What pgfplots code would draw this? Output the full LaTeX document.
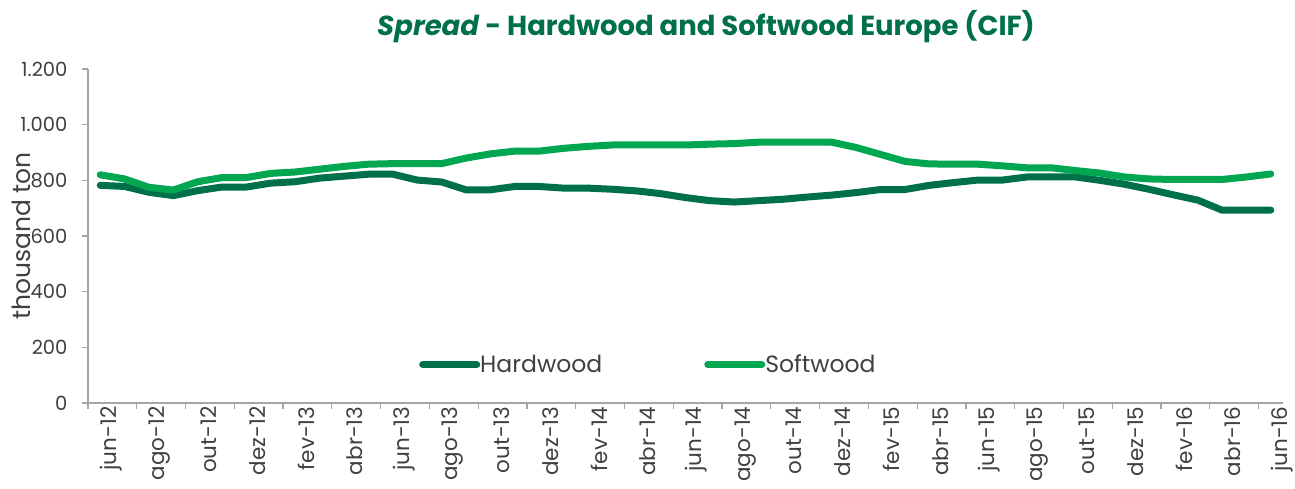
\documentclass[border=0pt]{standalone}
\usepackage{pgfplots}
\pgfplotsset{compat=1.18}
\usepackage{pgfplotstable}
\usepackage{fontspec}
\setmainfont{Poppins}
\definecolor{hard}{HTML}{00704A}
\definecolor{soft}{HTML}{00A650}
\definecolor{titlegreen}{HTML}{00704A}
\definecolor{axgray}{HTML}{A6A6A6}
\definecolor{txt}{HTML}{404040}
\pgfplotstableread{
i hard soft
0 782 820
1 778 805
2 757 775
3 745 765
4 763 795
5 776 810
6 776 810
7 790 825
8 795 830
9 808 840
10 815 850
11 822 858
12 822 860
13 801 860
14 794 860
15 766 880
16 766 895
17 778 905
18 778 905
19 772 915
20 772 922
21 768 927
22 762 927
23 752 927
24 738 927
25 727 930
26 722 932
27 727 937
28 732 937
29 740 937
30 747 937
31 756 918
32 767 893
33 767 868
34 782 859
35 792 858
36 801 858
37 801 852
38 812 845
39 812 845
40 812 835
41 800 826
42 786 812
43 768 805
44 748 803
45 729 803
46 693 803
47 693 812
48 693 823
}\datatable
\begin{document}
\begin{tikzpicture}[x=1pt,y=1pt]
\path[use as bounding box] (0,0) rectangle (1295,488);
\begin{axis}[
  at={(88pt,85pt)}, anchor=south west,
  scale only axis, width=1195pt, height=334pt,
  xmin=-0.5, xmax=48.5, ymin=0, ymax=1200,
  axis x line=bottom, axis y line=left,
  axis line style={-, axgray, line width=1.2pt},
  tick style={axgray, line width=1.2pt},
  tick align=outside,
  major tick length=6pt,
  xtick={-0.5,1.5,...,48.5},
  xticklabels={},
  extra x ticks={0,2,...,48},
  extra x tick labels={jun-12,ago-12,out-12,dez-12,fev-13,abr-13,jun-13,ago-13,out-13,dez-13,fev-14,abr-14,jun-14,ago-14,out-14,dez-14,fev-15,abr-15,jun-15,ago-15,out-15,dez-15,fev-16,abr-16,jun-16},
  extra x tick style={major tick length=0pt},
  xticklabel style={rotate=90, anchor=east, text=txt, font=\fontsize{21.5}{21.5}\selectfont, yshift=-11pt},
  ytick={0,200,...,1200},
  yticklabel style={text=txt, font=\fontsize{19.5}{19.5}\selectfont, xshift=-11pt},
  /pgf/number format/.cd, 1000 sep={.}, assume math mode=true, /pgfplots/.cd,
  legend style={draw=none, fill=none, at={(0.469,0.115)}, anchor=center,
    legend columns=2, font=\fontsize{23.5}{23.5}\selectfont, text=txt,
    /tikz/every even column/.append style={column sep=100pt},
    /tikz/every odd column/.append style={column sep=-2pt}},
  legend image code/.code={\draw[#1] (0pt,0pt) -- (54pt,0pt);},
  clip=false,
]
\addplot[hard, line width=7pt, line cap=round, line join=round] table[x=i, y=hard] {\datatable};
\addlegendentry{Hardwood}
\addplot[soft, line width=7pt, line cap=round, line join=round] table[x=i, y=soft] {\datatable};
\addlegendentry{Softwood}
\end{axis}
\node[text=txt, rotate=90, font=\fontsize{25}{25}\selectfont] at (21,252) {thousand ton};
\node[text=titlegreen, font=\bfseries\fontsize{27.5}{27.5}\selectfont] at (706,461) {\textit{Spread} - Hardwood and Softwood Europe (CIF)};
\end{tikzpicture}
\end{document}
